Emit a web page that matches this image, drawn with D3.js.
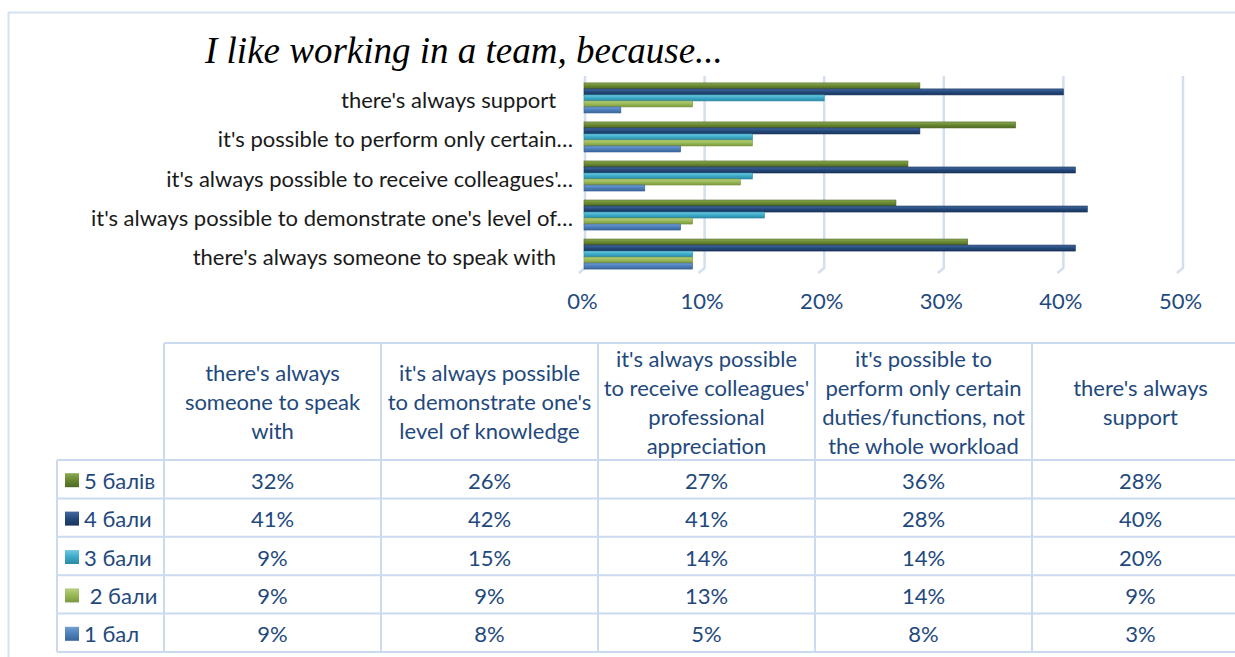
<!DOCTYPE html>
<html>
<head>
<meta charset="utf-8">
<script src="https://cdn.jsdelivr.net/npm/d3@7"></script>
<style>
body { margin: 0; background: #fff; }
text { font-family: Lato, "Open Sans", sans-serif; }
</style>
</head>
<body>
<svg id="chart"></svg>
<script>
const width = 1235;
const height = 657;

// categories, bottom to top in the chart, left to right in the table
const categories = [
	"there's always someone to speak with",
	"it's always possible to demonstrate one's level of knowledge",
	"it's always possible to receive colleagues' professional appreciation",
	"it's possible to perform only certain duties/functions, not the whole workload",
	"there's always support"
];
// truncated axis labels as shown next to the bars
const axisLabels = [
	"there's always someone to speak with   ",
	"it's always possible to demonstrate one's level of…",
	"it's always possible to receive colleagues'…",
	"it's possible to perform only certain…",
	"there's always support   "
];
// wrapped header text of the table
const headerLines = [
	["there's always", "someone to speak", "with"],
	["it's always possible", "to demonstrate one's", "level of knowledge"],
	["it's always possible", "to receive colleagues'", "professional", "appreciation"],
	["it's possible to", "perform only certain", "duties/functions, not", "the whole workload"],
	["there's always", "support"]
];

const series = ["5 балів", "4 бали", "3 бали", " 2 бали", "1 бал"];
const values5 = [0.32, 0.26, 0.27, 0.36, 0.28];
const values4 = [0.41, 0.42, 0.41, 0.28, 0.40];
const values3 = [0.09, 0.15, 0.14, 0.14, 0.20];
const values2 = [0.09, 0.09, 0.13, 0.14, 0.09];
const values1 = [0.09, 0.08, 0.05, 0.08, 0.03];
const xTicks = [0, 0.1, 0.2, 0.3, 0.4, 0.5];

const seriesValues = [values5, values4, values3, values2, values1];
// [light, base, dark]
const seriesColors = [
	["#8BA955", "#6B8A33", "#4E6823"],
	["#43699E", "#274C80", "#17335A"],
	["#74CBE2", "#3FADCB", "#2A8AA6"],
	["#B6D07F", "#9BBB59", "#7C983F"],
	["#72A0D6", "#4F81BD", "#3A6499"]
];

const tableColor = "#1F497D";
const lineColor = "#CADAEF";
const fontSize = 22;

const svg = d3.select("#chart")
	.attr("width", width)
	.attr("height", height);

// gradients for the 3D looking bars
const defs = svg.append("defs");
seriesColors.forEach((c, i) => {
	let g = defs.append("linearGradient")
		.attr("id", "grad" + i)
		.attr("x1", 0).attr("y1", 0).attr("x2", 0).attr("y2", 1);
	g.append("stop").attr("offset", "0%").attr("stop-color", c[0]);
	g.append("stop").attr("offset", "45%").attr("stop-color", c[1]);
	g.append("stop").attr("offset", "100%").attr("stop-color", c[2]);
});

// outer frame
svg.append("path")
	.attr("d", `M8.5,${height} V12.5 H${width}`)
	.attr("fill", "none")
	.attr("stroke", "#D5E2F2")
	.attr("stroke-width", 2);

// Title
svg.append("text")
	.text("I like working in a team, because...")
	.attr("x", 205)
	.attr("y", 63)
	.style("font-family", "'Liberation Serif', serif")
	.attr("font-style", "italic")
	.attr("font-size", 37)
	.attr("fill", "#000");

// scales
const xScale = d3.scaleLinear()
	.domain([0, 0.5])
	.range([585, 1183]);
const yScale = d3.scaleBand()
	.domain(categories.slice().reverse())
	.range([79, 273])
	.paddingInner(0.23)
	.paddingOuter(0.1);
const inner = d3.scaleBand()
	.domain(series)
	.range([0, yScale.bandwidth()]);

// gridlines with a little 3D floor tail
const grid = svg.append("g");
xTicks.forEach(t => {
	let x = xScale(t);
	grid.append("path")
		.attr("d", `M${x},76 V268 L${x - 6},273`)
		.attr("fill", "none")
		.attr("stroke", "#D3DFEE")
		.attr("stroke-width", 2.5);
});

// x axis labels
const xAxis = d3.axisBottom(xScale)
	.tickValues(xTicks)
	.tickFormat(d3.format(".0%"))
	.tickSize(0)
	.tickPadding(0);
const xg = svg.append("g")
	.attr("transform", "translate(-3, 293)")
	.call(xAxis);
xg.select(".domain").remove();
xg.selectAll("text")
	.attr("font-family", null)
	.attr("font-size", fontSize)
	.attr("fill", tableColor)
	.attr("dy", "0.71em");

// category labels
svg.append("g")
	.selectAll("text")
	.data(categories)
	.enter()
	.append("text")
	.attr("x", 573)
	.attr("y", d => yScale(d) + yScale.bandwidth() / 2 + 2)
	.attr("dominant-baseline", "central")
	.attr("text-anchor", "end")
	.attr("font-size", fontSize)
	.attr("fill", "#1a1a1a")
	.style("white-space", "pre")
	.text((d, i) => axisLabels[i]);

// bars
series.forEach((s, si) => {
	svg.append("g")
		.selectAll("rect")
		.data(categories)
		.enter()
		.append("rect")
		.attr("x", xScale(0) - 1)
		.attr("y", d => yScale(d) + inner(s))
		.attr("width", (d, ci) => xScale(seriesValues[si][ci]) - xScale(0) + 1)
		.attr("height", inner.bandwidth())
		.attr("fill", `url(#grad${si})`)
		.attr("stroke", seriesColors[si][2])
		.attr("stroke-width", 0.6);
});

// data table
const colX = d3.scaleBand()
	.domain(categories)
	.range([164, 164 + 217 * 5]);
const rowY = d3.scaleBand()
	.domain(series)
	.range([460, 652]);
const headerTop = 343;
const legendLeft = 57;

const table = svg.append("g");
// horizontal lines
table.append("line")
	.attr("x1", colX.range()[0]).attr("x2", width)
	.attr("y1", headerTop).attr("y2", headerTop);
series.forEach(s => {
	table.append("line")
		.attr("x1", legendLeft).attr("x2", width)
		.attr("y1", rowY(s)).attr("y2", rowY(s));
});
table.append("line")
	.attr("x1", legendLeft).attr("x2", width)
	.attr("y1", rowY.range()[1]).attr("y2", rowY.range()[1]);
// vertical lines
table.append("line")
	.attr("x1", legendLeft).attr("x2", legendLeft)
	.attr("y1", rowY.range()[0]).attr("y2", rowY.range()[1]);
categories.forEach(c => {
	table.append("line")
		.attr("x1", colX(c)).attr("x2", colX(c))
		.attr("y1", headerTop).attr("y2", rowY.range()[1]);
});
table.selectAll("line")
	.attr("stroke", lineColor)
	.attr("stroke-width", 2);

// header text
const lineH = 29;
categories.forEach((c, ci) => {
	let lines = headerLines[ci];
	let cy = (headerTop + rowY.range()[0]) / 2;
	let y0 = cy - (lines.length - 1) * lineH / 2;
	table.append("g")
		.selectAll("text")
		.data(lines)
		.enter()
		.append("text")
		.attr("x", colX(c) + colX.bandwidth() / 2)
		.attr("y", (d, i) => y0 + i * lineH)
		.attr("dominant-baseline", "central")
		.attr("text-anchor", "middle")
		.attr("font-size", fontSize)
		.attr("fill", tableColor)
		.text(d => d);
});

// value cells and legend column
series.forEach((s, si) => {
	let cy = rowY(s) + rowY.bandwidth() / 2 + 1;
	table.append("rect")
		.attr("x", 65)
		.attr("y", cy - 7)
		.attr("width", 14)
		.attr("height", 14)
		.attr("fill", `url(#grad${si})`);
	table.append("text")
		.attr("x", 84)
		.attr("y", cy)
		.attr("dominant-baseline", "central")
		.attr("font-size", fontSize)
		.attr("fill", tableColor)
		.style("white-space", "pre")
		.text(s);
	table.append("g")
		.selectAll("text")
		.data(categories)
		.enter()
		.append("text")
		.attr("x", d => colX(d) + colX.bandwidth() / 2)
		.attr("y", cy)
		.attr("dominant-baseline", "central")
		.attr("text-anchor", "middle")
		.attr("font-size", fontSize)
		.attr("fill", tableColor)
		.text((d, ci) => d3.format(".0%")(seriesValues[si][ci]));
});
</script>
</body>
</html>
